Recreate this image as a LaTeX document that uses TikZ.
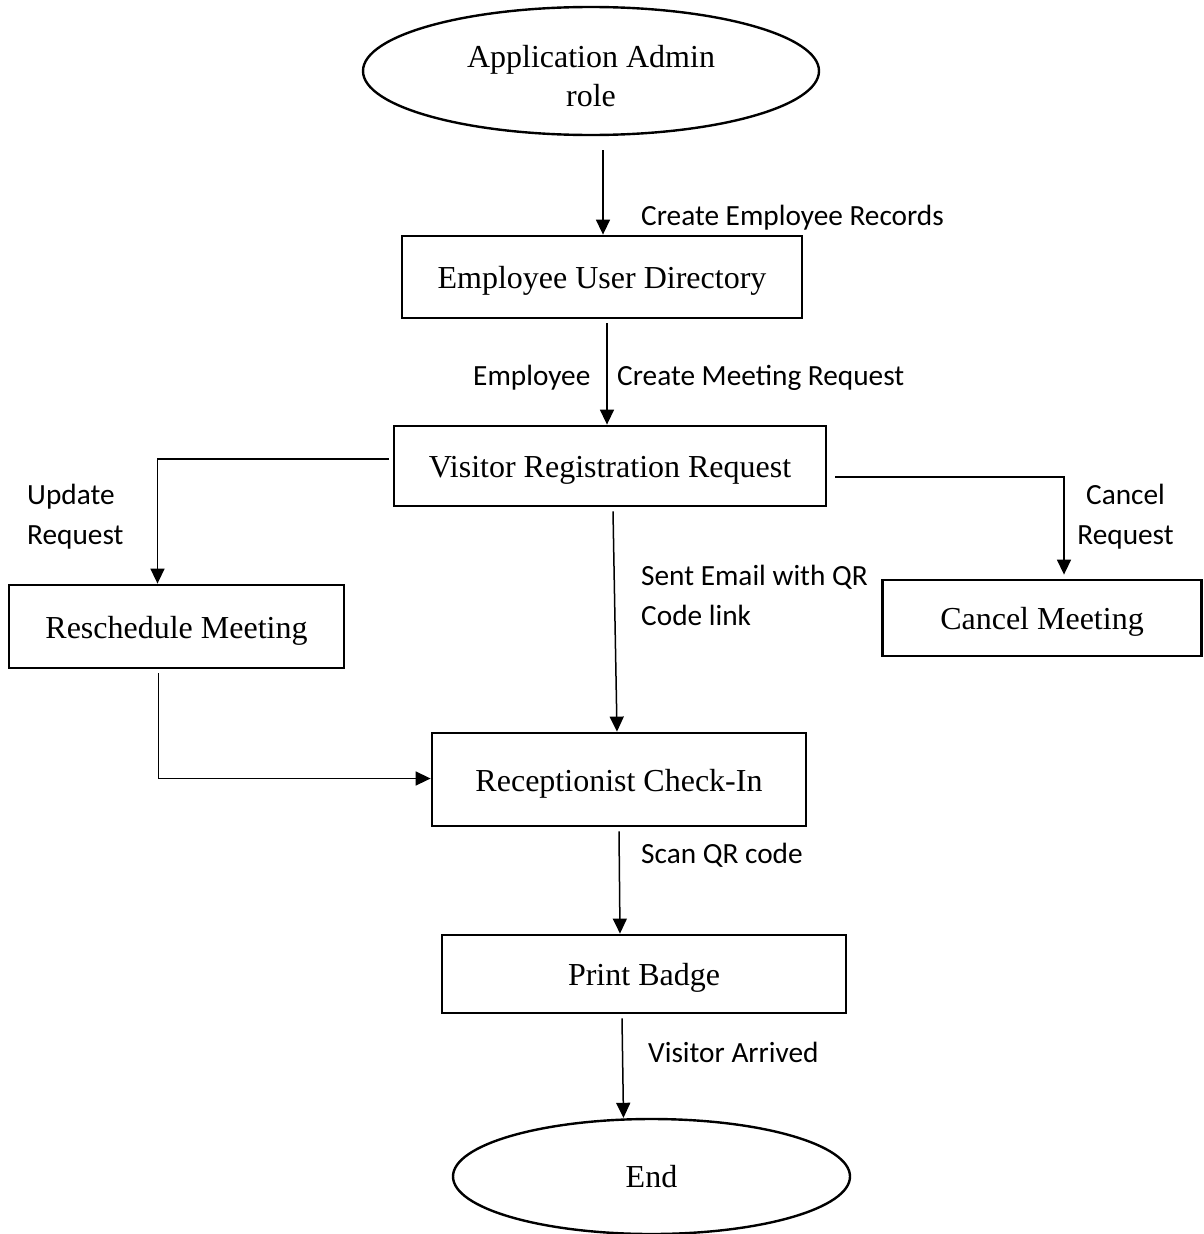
\documentclass[tikz,border=0pt]{standalone}
\usepackage{fontspec}
\setmainfont{Liberation Serif}
\newfontfamily\lblfont{Carlito}
\usetikzlibrary{shapes.geometric,arrows.meta,calc}
\begin{document}
\begin{tikzpicture}[x=1pt,y=-1pt,
 box/.style={draw,line width=2.8pt,rectangle,inner sep=0pt,text height=30pt,text depth=7pt,font=\fontsize{32}{39}\selectfont},
 oval/.style={draw,line width=2.4pt,ellipse,inner sep=0pt,align=center,font=\fontsize{32}{39}\selectfont},
 arr/.style={line width=1.5pt,-{Triangle[length=15pt,width=14pt]}},
 lab/.style={font=\lblfont\fontsize{29.3}{40}\selectfont,inner sep=0pt,align=left}]
\useasboundingbox (0,0) rectangle (1203,1234);
% nodes
\node[oval,minimum width=456pt,minimum height=128pt] (admin) at (591,71) {\rule{0pt}{32pt}Application Admin\\role};
\node[box,minimum width=400pt,minimum height=82pt] (dir) at (602,277) {Employee User Directory};
\node[box,minimum width=432pt,minimum height=80pt] (vrr) at (610,466) {Visitor Registration Request};
\node[box,minimum width=335pt,minimum height=83pt] (resch) at (176.5,626.5) {Reschedule Meeting};
\node[box,minimum width=319pt,minimum height=76pt] (cancel) at (1042,618) {Cancel Meeting};
\node[box,minimum width=374pt,minimum height=93pt] (rec) at (619,779.5) {Receptionist Check-In};
\node[box,minimum width=404pt,minimum height=78pt] (badge) at (644,974) {Print Badge};
\node[oval,minimum width=397pt,minimum height=115pt] (end) at (651.5,1176.5) {End};
% labels
\node[lab,anchor=west] (l1) at (641,218) {Create Employee Records};
\node[lab,anchor=west] (l2a) at (473,378) {Employee};
\node[lab,anchor=west] (l2b) at (617,378) {Create Meeting Request};
\node[lab,anchor=west] (l3) at (27,517) {Update\\Request};
\node[lab,align=center] (l4) at (1125.5,517) {Cancel\\Request};
\node[lab,anchor=west] (l5) at (641,595.5) {Sent Email with QR\\Code link};
\node[lab,anchor=west] (l6) at (641,855) {Scan QR code};
\node[lab,anchor=west] (l7) at (648,1052) {Visitor Arrived};
% connectors
\draw[arr] ($(admin.south)+(12,14)$) -- ($(dir.north)+(1,0)$);
\draw[arr] ($(dir.south)+(5,4)$) -- ($(vrr.north)+(-3,0)$);
\draw[arr] ($(vrr.west)+(-4,-7)$) -| ($(resch.north)+(-19,0)$);
\draw[arr] ($(vrr.east)+(8,11)$) -| ($(cancel.north)+(22,-4)$);
\draw[arr] ($(vrr.south)+(3,4)$) -- ($(rec.north)+(-2,0)$);
\draw[arr] ($(resch.south)+(-18,4)$) |- ($(rec.west)+(0,-1)$);
\draw[arr] ($(rec.south)+(0,4)$) -- ($(badge.north)+(-24,0)$);
\draw[arr] ($(badge.south)+(-22,4)$) -- ($(end.north)+(-28,0)$);
\end{tikzpicture}
\end{document}
